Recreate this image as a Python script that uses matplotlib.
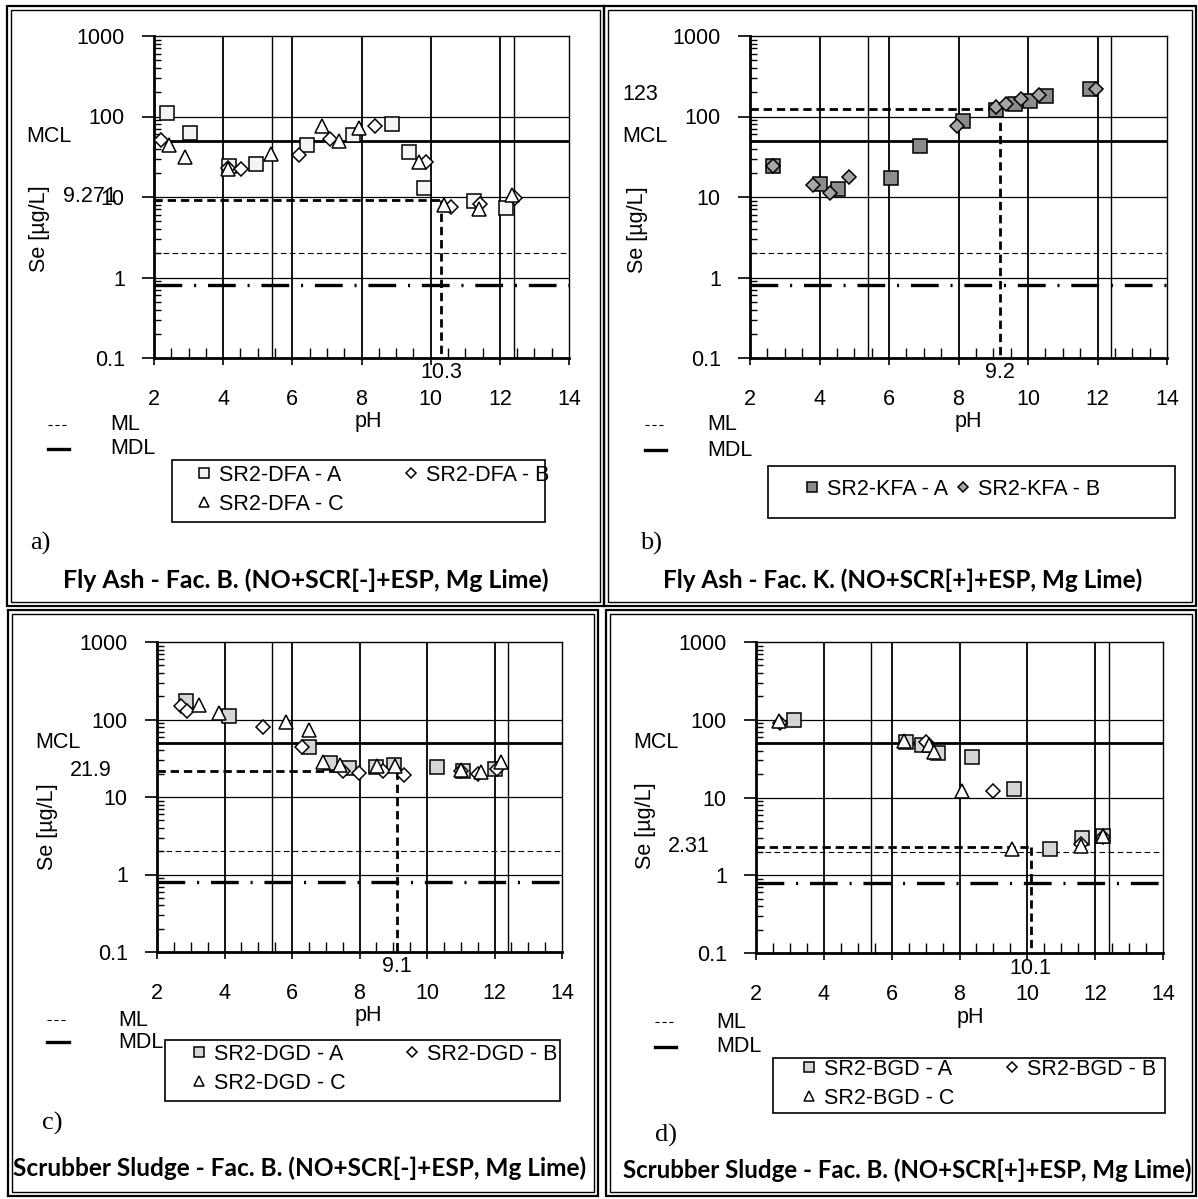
import matplotlib
matplotlib.use("Agg")
import matplotlib.pyplot as plt
from matplotlib.lines import Line2D
from matplotlib.patches import Rectangle
from matplotlib.transforms import blended_transform_factory
from matplotlib.ticker import LogLocator, NullFormatter
import numpy as np

plt.rcParams['font.family'] = ['Liberation Sans', 'DejaVu Sans']
plt.rcParams['lines.scale_dashes'] = False

# ---------------- data ----------------
# a) Fly Ash - Fac. B
dfa_a_ph = [2.38, 3.03, 4.17, 4.94, 6.41, 7.74, 8.87, 9.37, 9.82, 11.24, 12.19]
dfa_a_se = [112, 62, 24.6, 26, 44, 59, 80, 36, 12.9, 8.9, 7.4]
dfa_b_ph = [2.21, 4.14, 4.53, 6.18, 7.10, 8.40, 9.87, 10.58, 11.42, 12.43]
dfa_b_se = [51, 23, 22.4, 33, 52, 76, 27, 7.6, 8.1, 9.6]
dfa_c_ph = [2.43, 2.91, 4.14, 5.38, 6.86, 7.36, 7.94, 9.65, 10.38, 11.39, 12.35]
dfa_c_se = [44, 31.5, 22.4, 34, 77, 49, 73, 27.5, 7.9, 7.1, 10.6]

# b) Fly Ash - Fac. K
kfa_a_ph = [2.67, 4.01, 4.54, 6.05, 6.89, 8.12, 9.09, 9.62, 10.05, 10.51, 11.78]
kfa_a_se = [24.6, 14.5, 12.5, 17.4, 43, 87, 119, 144, 158, 179, 220]
kfa_b_ph = [2.67, 3.80, 4.30, 4.86, 7.96, 9.07, 9.38, 9.81, 10.31, 11.95]
kfa_b_se = [24.6, 14.1, 11.3, 17.5, 77, 131, 143, 165, 187, 218]

# c) Scrubber Sludge - Fac. B, SCR[-]
dgd_a_ph = [2.85, 4.14, 6.51, 7.12, 7.70, 8.49, 9.03, 10.29, 11.06, 12.02]
dgd_a_se = [172, 112, 44.7, 27.3, 24, 24.6, 26, 24.4, 21.8, 22.9]
dgd_b_ph = [2.72, 2.89, 5.15, 6.30, 7.50, 7.99, 8.71, 9.32, 11.00, 11.52, 12.07]
dgd_b_se = [151, 128, 81, 44.7, 21.8, 20.4, 21.8, 19.0, 21.8, 19.6, 23.3]
dgd_c_ph = [3.25, 3.84, 5.82, 6.51, 6.93, 7.42, 8.51, 9.05, 11.00, 11.60, 12.19]
dgd_c_se = [156, 122, 94, 73, 28.3, 25.8, 25, 25, 22.3, 21.3, 28.3]

# d) Scrubber Sludge - Fac. B, SCR[+]
bgd_a_ph = [3.11, 6.42, 6.90, 7.36, 8.36, 9.62, 10.68, 11.60, 12.23]
bgd_a_se = [98, 52, 48, 37, 33, 12.9, 2.18, 3.0, 3.2]
bgd_b_ph = [2.72, 7.01, 8.98, 11.57, 12.23]
bgd_b_se = [91, 51, 12.3, 2.5, 3.1]
bgd_c_ph = [2.67, 6.36, 7.11, 7.24, 8.07, 9.55, 11.57, 12.23]
bgd_c_se = [96, 53, 47, 38, 12.0, 2.2, 2.4, 3.2]

# regulatory / analytical limits [ug/L]
MCL, ML, MDL = 50, 2, 0.8
# natural pH and concentration at natural pH for each material
nat_ph = [10.3, 9.2, 9.1, 10.1]
nat_se = [9.271, 123, 21.9, 2.31]
nat_ph_txt = ['10.3', '9.2', '9.1', '10.1']
nat_se_txt = ['9.271', '123', '21.9', '2.31']

y_ticks = [0.1, 1, 10, 100, 1000]
y_ticklabels = ['0.1', '1', '10', '100', '1000']
x_ticks = [2, 4, 6, 8, 10, 12, 14]
ref_ph_lines = [5.4, 12.4]

titles = ['Fly Ash - Fac. B. (NO+SCR[-]+ESP, Mg Lime)',
          'Fly Ash - Fac. K. (NO+SCR[+]+ESP, Mg Lime)',
          'Scrubber Sludge - Fac. B. (NO+SCR[-]+ESP, Mg Lime)',
          'Scrubber Sludge - Fac. B. (NO+SCR[+]+ESP, Mg Lime)']
tags = ['a)', 'b)', 'c)', 'd)']

# ---------------- figure ----------------
W, H = 1198, 1199
fig = plt.figure(figsize=(W / 100, H / 100), dpi=100)
fig.patch.set_facecolor('white')


def fx(px):
    return px / W


def fy(py):
    return 1 - py / H


FS = 15.5

open_sq = dict(marker='s', ms=9.5, mfc='#f4f4f4', mec='k', mew=1.1)
light_sq = dict(marker='s', ms=9.5, mfc='#d6d6d6', mec='k', mew=1.1)
open_dm = dict(marker='D', ms=6.8, mfc='white', mec='k', mew=1.1)
open_tr = dict(marker='^', ms=10.5, mfc='white', mec='k', mew=1.1)
gray_sq = dict(marker='s', ms=10, mfc='#8c8c8c', mec='k', mew=1.1)
gray_dm = dict(marker='D', ms=7.2, mfc='#a6a6a6', mec='k', mew=1.1)

panels = [
    dict(box=(154, 36, 569, 358),
         series=[('SR2-DFA - A', dfa_a_ph, dfa_a_se, open_sq),
                 ('SR2-DFA - B', dfa_b_ph, dfa_b_se, open_dm),
                 ('SR2-DFA - C', dfa_c_ph, dfa_c_se, open_tr)],
         natlab=(117, 197, 'right'), mcl=(26, 137), ylab=(40, 229), phlab=(368, 421),
         leg_box=(172, 460, 545, 522), leg_anchor=(195, 465), colsp=2.75,
         ml=(48, 66, 110, 425, 449), tag=(30, 543), title=(306, 580, 486),
         frame=(7, 6, 604, 606)),
    dict(box=(750, 36, 1167, 358),
         series=[('SR2-KFA - A', kfa_a_ph, kfa_a_se, gray_sq),
                 ('SR2-KFA - B', kfa_b_ph, kfa_b_se, gray_dm)],
         natlab=(622, 95, 'left'), mcl=(622, 137), ylab=(638, 230), phlab=(968, 421),
         leg_box=(768, 466, 1175, 518), leg_anchor=(803, 479), colsp=0.3,
         ml=(645, 663, 707, 425, 450), tag=(640, 543), title=(903, 580, 481),
         frame=(604, 6, 1196, 606)),
    dict(box=(157, 642, 562, 952),
         series=[('SR2-DGD - A', dgd_a_ph, dgd_a_se, light_sq),
                 ('SR2-DGD - B', dgd_b_ph, dgd_b_se, open_dm),
                 ('SR2-DGD - C', dgd_c_ph, dgd_c_se, open_tr)],
         natlab=(70, 770, 'left'), mcl=(35, 742), ylab=(48, 827), phlab=(368, 1015),
         leg_box=(165, 1040, 560, 1101), leg_anchor=(190, 1044), colsp=2.7,
         ml=(47, 66, 118, 1020, 1042), tag=(42, 1123), title=(300, 1168, 575),
         frame=(8, 610, 598, 1196)),
    dict(box=(756, 642, 1163, 953),
         series=[('SR2-BGD - A', bgd_a_ph, bgd_a_se, light_sq),
                 ('SR2-BGD - B', bgd_b_ph, bgd_b_se, open_dm),
                 ('SR2-BGD - C', bgd_c_ph, bgd_c_se, open_tr)],
         natlab=(668, 847, 'left'), mcl=(633, 742), ylab=(646, 826), phlab=(970, 1018),
         leg_box=(773, 1058, 1165, 1113), leg_anchor=(800, 1059), colsp=2.3,
         ml=(655, 673, 716, 1022, 1047), tag=(655, 1135), title=(907, 1170, 570),
         frame=(606, 610, 1196, 1196)),
]

title_texts = []

for i, p in enumerate(panels):
    x0, y0, x1, y1 = p['box']
    ax = fig.add_axes([fx(x0), fy(y1), fx(x1) - fx(x0), fy(y0) - fy(y1)])
    ax.set_yscale('log')
    ax.set_xlim(2, 14)
    ax.set_ylim(0.1, 1000)

    # grid
    for v in [1, 10, 100]:
        ax.axhline(v, color='k', lw=0.9, zorder=1)
    for v in x_ticks[1:-1]:
        ax.axvline(v, color='k', lw=1.3, zorder=1)
    for v in ref_ph_lines:
        ax.axvline(v, color='k', lw=1.0, zorder=1)

    # limit lines
    ax.axhline(MCL, color='k', lw=2.0, zorder=2)
    ax.axhline(ML, color='k', lw=0.8, dashes=(4, 2.5), zorder=2)
    ax.axhline(MDL, color='k', lw=2.4, dashes=(20, 8.5, 1.5, 8.5), zorder=2)

    # natural pH marker lines
    ax.plot([2, nat_ph[i]], [nat_se[i], nat_se[i]], color='k', lw=2.0,
            dashes=(6, 3.5), zorder=3)
    ax.plot([nat_ph[i], nat_ph[i]], [nat_se[i], 0.1], color='k', lw=2.0,
            dashes=(6, 3.5), zorder=3)

    handles = []
    for name, ph, se, st in p['series']:
        h, = ax.plot(ph, se, linestyle='none', label=name, zorder=5, **st)
        handles.append(h)

    # axes styling
    for s in ['left', 'bottom']:
        ax.spines[s].set_linewidth(2.0)
    for s in ['top', 'right']:
        ax.spines[s].set_linewidth(1.0)
    ax.set_xticks(x_ticks)
    ax.set_xticklabels([str(v) for v in x_ticks])
    ax.set_xticks(np.arange(2, 14.01, 0.5), minor=True)
    ax.set_yticks(y_ticks)
    ax.set_yticklabels(y_ticklabels)
    ax.yaxis.set_minor_locator(LogLocator(base=10, subs=np.arange(2, 10)))
    ax.yaxis.set_minor_formatter(NullFormatter())
    ax.tick_params(axis='x', which='major', direction='out', length=5, width=1.2,
                   pad=17, labelsize=FS)
    ax.tick_params(axis='x', which='minor', direction='in', length=7, width=1.0)
    ax.tick_params(axis='y', which='major', direction='out', length=9, width=1.2,
                   pad=12, labelsize=FS)
    ax.tick_params(axis='y', which='minor', direction='in', length=5, width=1.0)

    # natural pH text under the axis
    tr = blended_transform_factory(ax.transData, fig.transFigure)
    ax.text(nat_ph[i], fy(y1 + 15), nat_ph_txt[i], transform=tr, ha='center',
            va='center', fontsize=FS)

    # value label at left
    nx, ny, nha = p['natlab']
    fig.text(fx(nx), fy(ny), nat_se_txt[i], ha=nha, va='center', fontsize=FS)
    fig.text(fx(p['mcl'][0]), fy(p['mcl'][1]), 'MCL', ha='left', va='center', fontsize=FS)
    fig.text(fx(p['ylab'][0]), fy(p['ylab'][1]), 'Se [µg/L]', rotation=90,
             ha='center', va='center', fontsize=FS)
    fig.text(fx(p['phlab'][0]), fy(p['phlab'][1]), 'pH', ha='center', va='center',
             fontsize=FS)

    # ML / MDL key
    lx0, lx1, tx, yml, ymdl = p['ml']
    fig.add_artist(Line2D([fx(lx0), fx(lx1)], [fy(yml), fy(yml)], color='k', lw=0.8,
                          dashes=(3, 2), transform=fig.transFigure))
    fig.add_artist(Line2D([fx(lx0), fx(lx1 + 3)], [fy(ymdl), fy(ymdl)], color='k', lw=2.4,
                          transform=fig.transFigure))
    fig.text(fx(tx), fy(yml), 'ML', ha='left', va='center', fontsize=FS)
    fig.text(fx(tx), fy(ymdl), 'MDL', ha='left', va='center', fontsize=FS)

    # legend
    bx0, by0, bx1, by1 = p['leg_box']
    fig.add_artist(Rectangle((fx(bx0), fy(by1)), fx(bx1) - fx(bx0), fy(by0) - fy(by1),
                             fill=False, edgecolor='k', lw=1.2, transform=fig.transFigure))
    if len(handles) == 3:
        order = [handles[0], handles[2], handles[1]]
    else:
        order = handles
    ax.legend(handles=order, labels=[h.get_label() for h in order], loc='upper left',
              bbox_to_anchor=(fx(p['leg_anchor'][0]), fy(p['leg_anchor'][1])),
              bbox_transform=fig.transFigure, ncol=2, frameon=False, borderpad=0,
              borderaxespad=0, handlelength=0.8, handletextpad=0.3,
              columnspacing=p['colsp'], labelspacing=0.35, markerscale=0.75,
              fontsize=FS)

    # panel tag and caption
    fig.text(fx(p['tag'][0]), fy(p['tag'][1]), tags[i], ha='left', va='center',
             fontsize=19, family=['Liberation Serif', 'DejaVu Serif'])
    t = fig.text(fx(p['title'][0]), fy(p['title'][1]), titles[i], ha='center',
                 va='center', fontsize=16, fontweight='bold', family=['Lato', 'DejaVu Sans'])
    title_texts.append((t, p['title'][2]))

    # double frame
    fx0, fy0, fx1, fy1 = p['frame']
    for inset, lw in [(0, 1.6), (4, 1.0)]:
        fig.add_artist(Rectangle((fx(fx0 + inset), fy(fy1 - inset)),
                                 fx(fx1 - fx0 - 2 * inset), fy(fy0 + inset) - fy(fy1 - inset),
                                 fill=False, edgecolor='k', lw=lw,
                                 transform=fig.transFigure))

# fit captions to their panel width
renderer = fig.canvas.get_renderer()
for t, target in title_texts:
    w = t.get_window_extent(renderer=renderer).width
    t.set_fontsize(t.get_fontsize() * target / w)

fig.savefig('out.png', dpi=100, facecolor='white')
